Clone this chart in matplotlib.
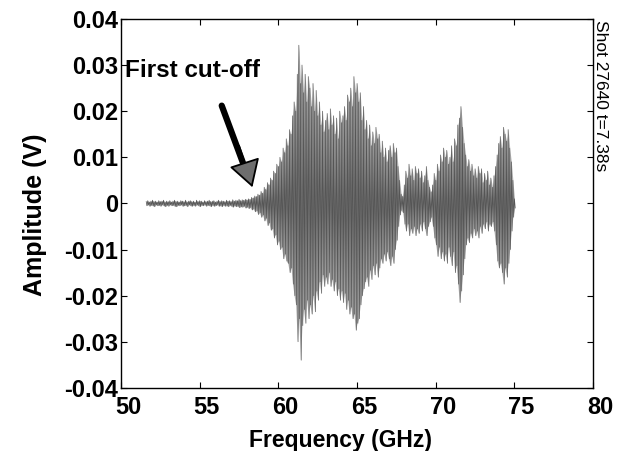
import numpy as np
import matplotlib
matplotlib.use("Agg")
import matplotlib.pyplot as plt
import matplotlib.transforms as mtransforms

plt.rcParams['font.family'] = ['Liberation Sans', 'DejaVu Sans']

# sample grid: 51.6 .. 75.0 GHz every 0.1 GHz
f_start, f_stop = 51.6, 75.0

# peak values (mV), before cut-off (51.6 .. 57.9)
noise_hi = [0.4, 0.6, 0.3, 0.5, 0.7, 0.4, 0.5, 0.3, 0.6, 0.4,
            0.5, 0.7, 0.3, 0.5, 0.4, 0.6, 0.3, 0.5, 0.7, 0.4,
            0.5, 0.3, 0.6, 0.5, 0.4, 0.7, 0.3, 0.5, 0.6, 0.4,
            0.5, 0.3, 0.7, 0.4, 0.6, 0.5, 0.3, 0.6, 0.4, 0.5,
            0.7, 0.4, 0.5, 0.6, 0.3, 0.5, 0.7, 0.4, 0.6, 0.5,
            0.4, 0.7, 0.5, 0.6, 0.4, 0.8, 0.5, 0.7, 0.6, 0.9,
            0.6, 0.8, 0.7, 0.9]
noise_lo = [-0.5, -0.3, -0.6, -0.4, -0.5, -0.7, -0.3, -0.5, -0.4, -0.6,
            -0.3, -0.5, -0.7, -0.4, -0.6, -0.3, -0.5, -0.4, -0.6, -0.7,
            -0.4, -0.5, -0.3, -0.6, -0.5, -0.4, -0.7, -0.3, -0.5, -0.6,
            -0.4, -0.6, -0.3, -0.5, -0.7, -0.4, -0.5, -0.3, -0.6, -0.4,
            -0.5, -0.7, -0.4, -0.6, -0.5, -0.3, -0.6, -0.5, -0.7, -0.4,
            -0.6, -0.5, -0.7, -0.4, -0.6, -0.8, -0.5, -0.7, -0.6, -0.9,
            -0.7, -0.8, -0.6, -1.0]

# after cut-off (58.0 .. 75.0)
sig_hi = [0.8, 1.0, 0.9, 1.3, 1.2, 1.6,
          1.5, 2.0, 1.8, 2.6, 2.2,
          3.5, 3.0, 4.5, 4.0, 5.5,
          5.0, 7.0, 6.5, 8.5, 8.0,
          10.0, 9.0, 12.0, 11.0, 14.0,
          12.5, 16.0, 15.0, 19.0, 22.0,
          20.0, 28.0, 34.3, 26.0, 30.0,
          24.0, 28.0, 22.0, 27.5, 25.0,
          21.0, 26.0, 20.0, 24.5, 19.0,
          22.0, 17.0, 20.0, 15.5, 18.0,
          19.5, 16.0, 20.5, 17.0, 19.0,
          15.0, 18.5, 14.0, 20.0, 17.5,
          19.0, 21.0, 18.0, 23.5, 22.0,
          25.0, 21.0, 27.5, 24.0, 26.0,
          22.0, 24.0, 18.0, 21.0, 16.0,
          18.0, 14.0, 17.0, 12.5, 15.5,
          13.0, 16.5, 14.0, 15.0, 11.0,
          13.5, 10.0, 12.0, 9.0, 11.5,
          12.5, 10.0, 13.0, 11.0, 12.0,
          8.0, 5.0, 2.0, 1.5, 4.0,
          7.0, 5.5, 8.5, 6.0, 7.5,
          5.0, 8.0, 6.5, 7.5, 5.5,
          7.0, 4.5, 6.0, 8.0, 5.0,
          3.5, 2.5, 4.0, 6.5, 5.0,
          8.5, 7.0, 10.5, 9.0, 12.0,
          10.0, 11.5, 8.5, 10.0, 12.5,
          9.0, 14.0, 12.5, 17.0, 18.5,
          21.0, 16.5, 13.0, 10.5, 8.0,
          9.5, 7.0, 8.5, 6.0, 7.5,
          5.5, 8.0, 6.5, 7.5, 4.5,
          6.5, 5.0, 7.0, 4.0, 5.5,
          3.5, 6.0, 8.0, 10.5, 13.0,
          14.5, 12.0, 16.5, 15.0, 13.5,
          16.0, 12.0, 9.0, 5.0, 1.0]
sig_lo = [-0.8, -1.1, -0.9, -1.4, -1.2, -1.8,
          -1.6, -2.4, -2.0, -3.0, -2.5,
          -3.8, -3.2, -4.8, -4.2, -5.8,
          -5.5, -7.5, -6.8, -9.0, -8.2,
          -10.0, -9.5, -12.0, -11.0, -12.5,
          -13.0, -15.0, -14.0, -17.5, -20.0,
          -22.0, -30.0, -25.0, -34.0, -26.5,
          -23.0, -26.0, -21.0, -25.0, -22.0,
          -24.0, -20.0, -23.5, -19.0, -21.0,
          -17.0, -19.5, -15.5, -18.0, -16.0,
          -17.5, -15.0, -18.0, -16.5, -19.0,
          -17.0, -20.0, -18.5, -21.0, -19.0,
          -21.5, -19.5, -23.0, -21.0, -24.0,
          -22.5, -25.0, -24.0, -27.5, -26.0,
          -25.0, -22.0, -20.0, -18.5, -17.0,
          -16.0, -18.0, -14.5, -16.5, -13.5,
          -15.5, -13.0, -16.0, -14.0, -12.0,
          -13.0, -11.0, -12.5, -10.5, -12.0,
          -13.5, -11.5, -13.0, -10.0, -8.0,
          -5.0, -2.5, -1.5, -2.0, -4.5,
          -6.0, -4.5, -7.0, -5.5, -6.5,
          -5.0, -7.0, -5.5, -6.5, -4.5,
          -6.0, -4.0, -5.5, -7.0, -5.0,
          -4.0, -3.0, -5.0, -7.5, -9.0,
          -11.5, -9.5, -12.0, -10.5, -12.5,
          -11.0, -13.0, -9.5, -11.5, -13.5,
          -10.5, -15.0, -13.5, -17.5, -21.5,
          -19.0, -15.5, -12.0, -9.0, -7.5,
          -8.5, -6.5, -7.5, -5.5, -7.0,
          -6.0, -7.5, -5.0, -6.5, -4.5,
          -5.5, -4.0, -6.0, -4.5, -5.0,
          -4.0, -6.0, -9.0, -12.5, -14.0,
          -13.0, -15.0, -17.5, -14.0, -16.0,
          -13.0, -10.0, -6.0, -3.0, -1.0]

hi = np.array(noise_hi + sig_hi) * 1e-3
lo = np.array(noise_lo + sig_lo) * 1e-3
freq = np.linspace(f_start, f_stop, len(hi))

# zig-zag trace: up at each sample, down half a step later
step = freq[1] - freq[0]
zx = np.column_stack([freq, freq + step / 2]).ravel()
zy = np.column_stack([hi, lo]).ravel()

fig = plt.figure(figsize=(6.27, 4.51), dpi=100)
ax = fig.add_axes([0.193, 0.140, 0.753, 0.818])

ax.fill_between(freq, lo, hi, color='#b0b0b0', lw=0)
ax.plot(zx, zy, color='#555555', lw=0.5)

ax.set_xlim(50, 80)
ax.set_ylim(-0.04, 0.04)
ax.set_xticks([50, 55, 60, 65, 70, 75, 80])
ax.set_yticks(np.arange(-0.04, 0.041, 0.01))
ax.set_yticklabels(['-0.04', '-0.03', '-0.02', '-0.01', '0', '0.01', '0.02', '0.03', '0.04'])
ax.tick_params(direction='in', length=4, width=0.8, top=True, right=True,
               labelsize=17)
ax.tick_params(axis='y', pad=2)
ax.tick_params(axis='x', pad=6)
for lab in ax.get_xticklabels() + ax.get_yticklabels():
    lab.set_fontweight('bold')
# x labels sit a little right of their ticks in the scan
shift = mtransforms.ScaledTranslation(7 / 100, 0, fig.dpi_scale_trans)
for lab in ax.get_xticklabels():
    lab.set_transform(lab.get_transform() + shift)
for s in ax.spines.values():
    s.set_linewidth(1.0)

ax.set_xlabel('Frequency (GHz)', fontsize=16.5, fontweight='bold')
ax.set_ylabel('Amplitude (V)', fontsize=18, fontweight='bold')
ax.xaxis.set_label_coords(0.464, -0.112)
ax.yaxis.set_label_coords(-0.157, 0.47)

ax.text(50.25, 0.0288, 'First cut-off', fontsize=17.5, fontweight='bold',
        va='center', ha='left')
# thick black shaft, then a grey head
ax.annotate('', xy=(57.9, 0.0074), xytext=(56.4, 0.0212),
            arrowprops=dict(arrowstyle='-', lw=4.5, color='black',
                            shrinkA=0, shrinkB=0))
ax.annotate('', xy=(58.35, 0.0035), xytext=(57.5, 0.0125),
            arrowprops=dict(arrowstyle='-|>,head_length=0.85,head_width=0.5',
                            lw=1.3, edgecolor='black', facecolor='#6e6e6e',
                            mutation_scale=20, shrinkA=0, shrinkB=0))

fig.text(0.958, 0.955, 'Shot 27640 t=7.38s', rotation=-90, fontsize=12.5,
         va='top', ha='center')

fig.savefig('out.png', dpi=100)
